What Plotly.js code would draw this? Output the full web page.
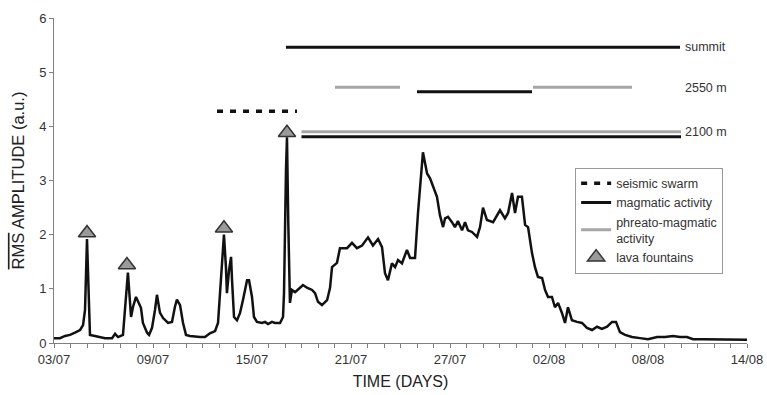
<!DOCTYPE html>
<html>
<head>
<meta charset="utf-8">
<script src="https://cdn.plot.ly/plotly-3.0.1.min.js"></script>
<style>html,body{margin:0;padding:0;background:#fff;}#chart{width:767px;height:395px;}</style>
</head>
<body>
<div id="chart"></div>
<script>
// Days since 03/07 (2001) and RMS amplitude (a.u.)
const days = [0,0.36,0.67,0.97,1.27,1.58,1.76,1.88,2.0,2.06,2.18,2.48,2.79,3.09,3.52,3.70,3.88,4.18,4.30,4.48,4.67,4.79,4.97,5.09,5.27,5.39,5.64,5.76,5.94,6.12,6.24,6.42,6.61,6.91,7.15,7.33,7.45,7.64,7.82,8.0,8.24,8.85,9.15,9.45,9.76,9.94,10.06,10.18,10.30,10.42,10.48,10.61,10.73,10.79,10.91,11.09,11.27,11.45,11.70,11.82,12.0,12.12,12.30,12.61,12.79,12.97,13.21,13.39,13.70,13.88,13.94,14.06,14.12,14.2,14.3,14.42,14.61,14.91,15.09,15.33,15.64,15.82,16.0,16.24,16.55,16.73,16.85,17.15,17.33,17.76,18.06,18.36,18.67,19.03,19.33,19.64,19.88,20.06,20.24,20.48,20.67,20.85,21.09,21.39,21.58,21.88,22.06,22.36,22.61,22.79,22.97,23.21,23.39,23.58,23.70,23.88,24.12,24.30,24.48,24.73,24.91,25.09,25.33,25.64,25.82,26.0,26.24,26.61,27.03,27.33,27.52,27.76,27.94,28.12,28.36,28.55,28.73,28.97,29.15,29.33,29.58,29.76,29.94,30.18,30.36,30.55,30.79,30.97,31.15,31.39,31.70,32.0,32.30,32.61,32.91,33.21,33.52,33.82,34.06,34.30,34.61,35.03,35.52,36.0,36.55,37.03,37.52,37.94,38.36,38.73,39.33,40.18,41.15,42.0];
const rms = [0.09,0.09,0.13,0.15,0.19,0.24,0.33,0.61,1.92,1.22,0.15,0.13,0.11,0.09,0.09,0.17,0.11,0.15,0.61,1.3,0.48,0.67,0.85,0.76,0.65,0.37,0.19,0.15,0.28,0.61,0.89,0.56,0.46,0.37,0.39,0.67,0.8,0.7,0.37,0.15,0.13,0.11,0.11,0.18,0.22,0.37,0.92,1.53,2.0,1.4,0.92,1.35,1.59,1.16,0.48,0.42,0.55,0.79,1.16,1.16,0.85,0.48,0.39,0.37,0.39,0.35,0.39,0.37,0.37,0.48,0.92,3.2,3.8,2.2,0.74,0.98,0.94,1.02,1.07,1.02,0.98,0.92,0.76,0.70,0.79,1.02,1.4,1.48,1.75,1.75,1.85,1.75,1.8,1.95,1.8,1.92,1.77,1.29,1.16,1.47,1.4,1.53,1.47,1.72,1.57,1.57,2.4,3.52,3.13,3.04,2.88,2.7,2.36,2.14,2.3,2.33,2.23,2.14,2.25,2.08,2.23,2.08,2.05,1.96,2.14,2.5,2.27,2.23,2.45,2.3,2.4,2.77,2.4,2.7,2.7,2.18,2.14,1.66,1.4,1.22,1.2,0.98,0.85,0.85,0.66,0.74,0.55,0.37,0.66,0.42,0.39,0.37,0.28,0.24,0.3,0.26,0.3,0.39,0.39,0.2,0.15,0.11,0.09,0.07,0.11,0.11,0.13,0.11,0.11,0.07,0.07,0.07,0.06,0.06];

// Lava fountains (day, level)
const fountainDays = [2.0, 4.42, 10.3, 14.12];
const fountainLevels = [2.03, 1.44, 2.12, 3.88];

// Seismic swarm period
const swarmStart = [9.88];
const swarmEnd = [14.73];
const swarmLevel = [4.28];

// Activity periods: summit, 2550 m, 2100 m
const magStart = [14.06, 22.0, 15.0];
const magEnd = [37.94, 28.97, 38.0];
const magLevel = [5.46, 4.64, 3.81];
const phrStart = [17.03, 29.03, 15.0];
const phrEnd = [20.97, 35.03, 38.0];
const phrLevel = [4.72, 4.72, 3.90];

const siteLabels = ['summit', '2550 m', '2100 m'];
const siteLevels = [5.46, 4.70, 3.90];

const tickDays = [0, 6, 12, 18, 24, 30, 36, 42];
const tickLabels = ['03/07', '09/07', '15/07', '21/07', '27/07', '02/08', '08/08', '14/08'];

function segs(s, e, l) {
  const x = [], y = [];
  for (let i = 0; i < s.length; i++) { x.push(s[i], e[i], null); y.push(l[i], l[i], null); }
  return {x, y};
}
const sw = segs(swarmStart, swarmEnd, swarmLevel);
const mg = segs(magStart, magEnd, magLevel);
const ph = segs(phrStart, phrEnd, phrLevel);

const font = 'Liberation Sans, Arial, sans-serif';
const traces = [
  {x: days, y: rms, mode: 'lines', line: {color: '#111', width: 2.5}, showlegend: false, hoverinfo: 'skip'},
  {x: sw.x, y: sw.y, mode: 'lines', name: 'seismic swarm', line: {color: '#111', width: 3.5, dash: '6px,7px'}},
  {x: mg.x, y: mg.y, mode: 'lines', name: 'magmatic activity', line: {color: '#111', width: 3}},
  {x: ph.x, y: ph.y, mode: 'lines', name: 'phreato-magmatic<br>activity', line: {color: '#a6a6a6', width: 3}},
  {x: fountainDays, y: fountainLevels, mode: 'markers', name: 'lava fountains',
   marker: {symbol: 'triangle-up', size: 15, color: '#9a9a9a', line: {color: '#333', width: 1.5}}}
];

const annotations = siteLabels.map((t, i) => ({
  x: 38.1, y: siteLevels[i], xref: 'x', yref: 'y', text: t, showarrow: false,
  xanchor: 'left', yanchor: 'middle', font: {family: font, size: 12.5, color: '#333'}
}));

const layout = {
  width: 767, height: 395,
  margin: {l: 54, r: 20, t: 18, b: 52},
  paper_bgcolor: '#fff', plot_bgcolor: '#fff',
  font: {family: font, size: 12, color: '#333'},
  showlegend: true,
  legend: {x: 0.752, y: 0.54, xanchor: 'left', yanchor: 'top', bgcolor: '#fff',
           bordercolor: '#999', borderwidth: 1, font: {family: font, size: 12.5, color: '#333'},
           tracegroupgap: 0},
  xaxis: {range: [0, 42], showgrid: false, zeroline: false, showline: true, linecolor: '#808080', linewidth: 1,
          tickvals: tickDays, ticktext: tickLabels, ticks: 'outside', ticklen: 4, tickcolor: '#808080',
          minor: {dtick: 1, tick0: 0, ticks: 'outside', ticklen: 4, tickcolor: '#808080'},
          tickfont: {family: font, size: 13, color: '#333'},
          title: {text: 'TIME (DAYS)', font: {family: font, size: 16, color: '#222'}, standoff: 10}},
  yaxis: {range: [0, 6], dtick: 1, tickformat: 'd', showgrid: false, zeroline: false, showline: true, linecolor: '#808080', linewidth: 1,
          ticks: 'outside', ticklen: 4, tickcolor: '#808080',
          tickfont: {family: font, size: 13, color: '#333'},
          title: {text: '<span style="text-decoration:overline">RMS</span> AMPLITUDE (a.u.)', font: {family: font, size: 16.5, color: '#222'}, standoff: 10}},
  annotations: annotations
};

Plotly.newPlot('chart', traces, layout, {displayModeBar: false, staticPlot: true});
</script>
</body>
</html>
